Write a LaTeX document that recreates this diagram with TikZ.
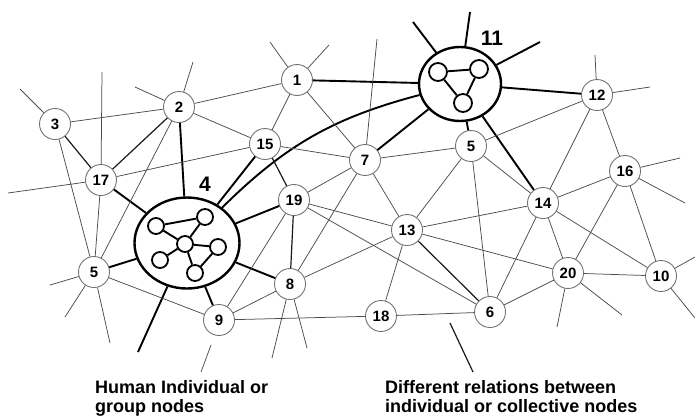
\documentclass[tikz,border=0pt]{standalone}
\usepackage{fontspec}
\setmainfont{Liberation Sans}
\usetikzlibrary{shapes.geometric}

\begin{document}
\begin{tikzpicture}
    [x=1pt,y=-1pt,
    font=\fontsize{15}{17}\selectfont\bfseries,
    actor/.style={shape=circle,draw=black!55,fill=white,minimum size=31pt,inner sep=0pt,line width=0.9pt},
    group/.style={shape=ellipse,draw=black,fill=white,inner sep=0pt,line width=2.4pt},
    member/.style={shape=circle,draw=black,fill=white,minimum size=16pt,inner sep=0pt,line width=1.8pt},
    tie/.style={draw=black!70,line width=0.75pt},
    strong/.style={draw=black!90,line width=1.2pt},
    link/.style={draw=black,line width=1.9pt},
    caption/.style={font=\fontsize{18}{19}\selectfont\bfseries,align=left,inner sep=0pt}]

    \useasboundingbox (0,0) rectangle (695,418);

    % group nodes
    \node (g4) [group,minimum width=105pt,minimum height=91pt] at (187,243) {};
    \node (g11) [group,minimum width=82pt,minimum height=74pt] at (460,84) {};
    \node (l4) at (205,184) {\fontsize{21}{24}\selectfont 4};
    \node (l11) at (492,38) {\fontsize{21}{24}\selectfont 11};

    \node (a) [member] at (156,226) {};
    \node (b) [member] at (205,217) {};
    \node (c) [member] at (185,244) {};
    \node (d) [member] at (218,247) {};
    \node (e) [member] at (160,260) {};
    \node (f) [member] at (195,273) {};
    \draw [link] (a) -- (b);
    \draw [link] (a) -- (c);
    \draw [link] (b) -- (c);
    \draw [link] (c) -- (d);
    \draw [link] (c) -- (e);
    \draw [link] (c) -- (f);
    \draw [link] (d) -- (f);

    \node (p) [member,minimum size=18pt] at (438,72) {};
    \node (q) [member,minimum size=18pt] at (479,69) {};
    \node (r) [member,minimum size=18pt] at (463,103) {};
    \draw [link] (p) -- (q);
    \draw [link] (p) -- (r);
    \draw [link] (q) -- (r);

    % individual nodes
    \node (n1) [actor] at (297,80) {1};
    \node (n2) [actor] at (179,107) {2};
    \node (n3) [actor] at (55,124) {3};
    \node (n5w) [actor] at (94,272) {5};
    \node (n5e) [actor] at (471,146) {5};
    \node (n6) [actor] at (490,312) {6};
    \node (n7) [actor] at (365,160) {7};
    \node (n8) [actor] at (290,284) {8};
    \node (n9) [actor] at (219,320) {9};
    \node (n10) [actor] at (661,276) {10};
    \node (n12) [actor] at (597,95) {12};
    \node (n13) [actor] at (407,230) {13};
    \node (n14) [actor] at (543,203) {14};
    \node (n15) [actor] at (265,144) {15};
    \node (n16) [actor] at (625,171) {16};
    \node (n17) [actor] at (101,180) {17};
    \node (n18) [actor] at (381,316) {18};
    \node (n19) [actor] at (294,200) {19};
    \node (n20) [actor] at (568,273) {20};

    % loose ends
    \coordinate (f3) at (20,89);
    \coordinate (f17a) at (102,72);
    \coordinate (f17b) at (8,193);
    \coordinate (f2a) at (193,62);
    \coordinate (f2b) at (135,87);
    \coordinate (f1a) at (270,42);
    \coordinate (f1b) at (329,45);
    \coordinate (f7) at (377,39);
    \coordinate (f11a) at (413,22);
    \coordinate (f11b) at (470,12);
    \coordinate (f11c) at (540,42);
    \coordinate (f12a) at (595,55);
    \coordinate (f12b) at (650,87);
    \coordinate (f16a) at (680,158);
    \coordinate (f16b) at (685,203);
    \coordinate (f10a) at (695,257);
    \coordinate (f10b) at (695,318);
    \coordinate (f20a) at (557,327);
    \coordinate (f20b) at (622,315);
    \coordinate (f8a) at (272,358);
    \coordinate (f8b) at (307,348);
    \coordinate (f5a) at (50,285);
    \coordinate (f5b) at (65,317);
    \coordinate (f5c) at (110,343);
    \coordinate (f4) at (138,352);
    \coordinate (p9a) at (211,345);
    \coordinate (p9b) at (201,372);
    \coordinate (p6a) at (450,323);
    \coordinate (p6b) at (473,372);

    % relations of the groups
    \draw [link] (g4) -- (n2);
    \draw [link] (g4) -- (n17);
    \draw [link] (g4) -- (n15);
    \draw [link] (g4) -- (n19);
    \draw [link] (g4) -- (n8);
    \draw [link] (g4) -- (n9);
    \draw [link] (g4) -- (n5w);
    \draw [link] (g4) -- (f4);
    \draw [link] (g4) to[bend left=15] (g11);
    \draw [link] (g11) -- (n1);
    \draw [link] (g11) -- (n7);
    \draw [link] (g11) -- (n12);
    \draw [link] (g11) -- (n5e);
    \draw [link] (g11) -- (n14);
    \draw [link] (g11) -- (f11a);
    \draw [link] (g11) -- (f11b);
    \draw [link] (g11) -- (f11c);

    % relations of the individuals
    \draw [strong] (n3) -- (n17);
    \draw [strong] (n2) -- (n17);
    \draw [strong] (n15) -- (n19);
    \draw [strong] (n19) -- (n8);
    \draw [strong] (n13) -- (n6);
    \draw [strong] (p6a) -- (p6b);
    \draw [tie] (p9a) -- (p9b);

    \draw [tie] (n3) -- (n2);
    \draw [tie] (n3) -- (n5w);
    \draw [tie] (n3) -- (f3);
    \draw [tie] (n17) -- (n5w);
    \draw [tie] (n17) -- (n15);
    \draw [tie] (n17) -- (f17a);
    \draw [tie] (n17) -- (f17b);
    \draw [tie] (n2) -- (n1);
    \draw [tie] (n2) -- (n15);
    \draw [tie] (n2) -- (n5w);
    \draw [tie] (n2) -- (f2a);
    \draw [tie] (n2) -- (f2b);
    \draw [tie] (n1) -- (n15);
    \draw [tie] (n1) -- (n7);
    \draw [tie] (n1) -- (f1a);
    \draw [tie] (n1) -- (f1b);
    \draw [tie] (n15) -- (n7);
    \draw [tie] (n7) -- (n5e);
    \draw [tie] (n7) -- (n13);
    \draw [tie] (n7) -- (n19);
    \draw [tie] (n7) -- (n8);
    \draw [tie] (n7) -- (f7);
    \draw [tie] (n19) -- (n13);
    \draw [tie] (n19) -- (n6);
    \draw [tie] (n19) -- (n9);
    \draw [tie] (n8) -- (n13);
    \draw [tie] (n8) -- (n9);
    \draw [tie] (n8) -- (f8a);
    \draw [tie] (n8) -- (f8b);
    \draw [tie] (n9) -- (n18);
    \draw [tie] (n9) -- (n5w);
    \draw [tie] (n5w) -- (f5a);
    \draw [tie] (n5w) -- (f5b);
    \draw [tie] (n5w) -- (f5c);
    \draw [tie] (n13) -- (n5e);
    \draw [tie] (n13) -- (n14);
    \draw [tie] (n13) -- (n20);
    \draw [tie] (n13) -- (n18);
    \draw [tie] (n18) -- (n6);
    \draw [tie] (n6) -- (n5e);
    \draw [tie] (n6) -- (n14);
    \draw [tie] (n6) -- (n20);
    \draw [tie] (n5e) -- (n12);
    \draw [tie] (n5e) -- (n14);
    \draw [tie] (n14) -- (n12);
    \draw [tie] (n14) -- (n16);
    \draw [tie] (n14) -- (n20);
    \draw [tie] (n14) -- (n10);
    \draw [tie] (n12) -- (n16);
    \draw [tie] (n12) -- (f12a);
    \draw [tie] (n12) -- (f12b);
    \draw [tie] (n16) -- (n20);
    \draw [tie] (n16) -- (n10);
    \draw [tie] (n16) -- (f16a);
    \draw [tie] (n16) -- (f16b);
    \draw [tie] (n20) -- (n10);
    \draw [tie] (n20) -- (f20a);
    \draw [tie] (n20) -- (f20b);
    \draw [tie] (n10) -- (f10a);
    \draw [tie] (n10) -- (f10b);

    \node (txt4) [caption,anchor=north west] at (95,380) {Human Individual or\\group nodes};
    \node (txt11) [caption,anchor=north west] at (385,380) {Different relations between\\individual or collective nodes};

\end{tikzpicture}
\end{document}
